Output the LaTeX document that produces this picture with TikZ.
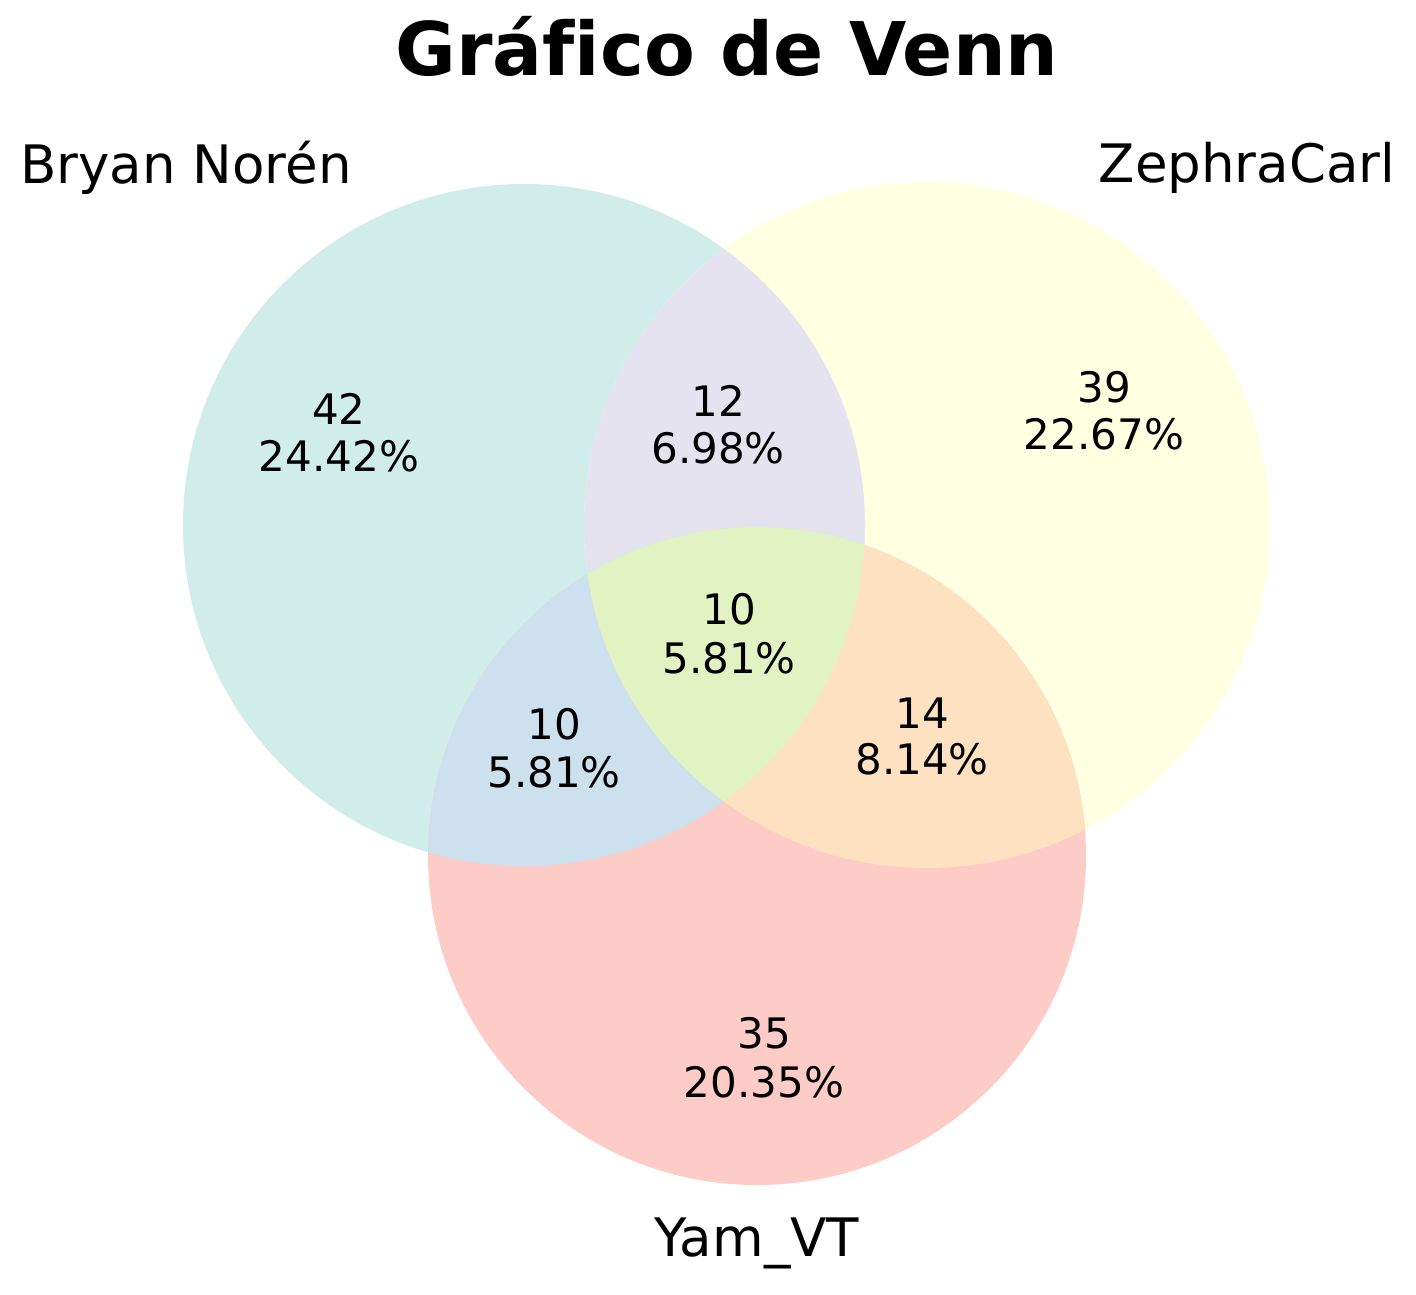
\documentclass[tikz,border=0pt]{standalone}
\usepackage{fontspec}
\setmainfont[Ligatures=NoCommon]{DejaVu Sans}
\definecolor{cA}{RGB}{209,237,233}
\definecolor{cB}{RGB}{255,255,226}
\definecolor{cC}{RGB}{253,204,199}
\definecolor{cAB}{RGB}{229,227,240}
\definecolor{cAC}{RGB}{204,224,237}
\definecolor{cBC}{RGB}{254,225,192}
\definecolor{cABC}{RGB}{225,242,195}
\tikzset{
  numtxt/.style={font=\fontsize{21pt}{25pt}\selectfont, anchor=base, inner sep=0pt, text=black},
  settxt/.style={font=\fontsize{26.5pt}{31pt}\selectfont, anchor=base, inner sep=0pt, text=black},
  titletxt/.style={font=\fontsize{37pt}{44pt}\selectfont\bfseries, anchor=base, inner sep=0pt, text=black}
}
\begin{document}
\begin{tikzpicture}[x=0.5pt,y=-0.5pt]
\useasboundingbox (0,0) rectangle (1416,1294);
\fill[white] (0,0) rectangle (1416,1294);
\coordinate (ca) at (524,525);
\coordinate (cb) at (927,525);
\coordinate (cc) at (757,856);
\def\circA{(ca) circle [radius=170.5pt]}
\def\circB{(cb) circle [radius=171.5pt]}
\def\circC{(cc) circle [radius=164.5pt]}
% single sets
\fill[cA] \circA;
\fill[cB] \circB;
\fill[cC] \circC;
% pairwise
\begin{scope}\clip \circA; \fill[cAB] \circB; \end{scope}
\begin{scope}\clip \circA; \fill[cAC] \circC; \end{scope}
\begin{scope}\clip \circB; \fill[cBC] \circC; \end{scope}
\begin{scope}\clip \circA; \clip \circB; \fill[cABC] \circC; \end{scope}
% title and set labels
\node[titletxt] (title) at (727,76) {Gráf\kern0pt ico de Venn};
\node[settxt] (labA) at (186,184) {Bryan Norén};
\node[settxt] (labB) at (1247,183) {ZephraCarl};
\node[settxt] (labC) at (757,1256) {Yam\_VT};
% region values
\node[numtxt] (a1) at (339,424) {42};
\node[numtxt] (a2) at (339,471) {24.42\%};
\node[numtxt] (ab1) at (718,416) {12};
\node[numtxt] (ab2) at (718,463) {6.98\%};
\node[numtxt] (b1) at (1104,402) {39};
\node[numtxt] (b2) at (1104,449) {22.67\%};
\node[numtxt] (abc1) at (729,624) {10};
\node[numtxt] (abc2) at (729,673) {5.81\%};
\node[numtxt] (ac1) at (554,739) {10};
\node[numtxt] (ac2) at (554,787) {5.81\%};
\node[numtxt] (bc1) at (922,728) {14};
\node[numtxt] (bc2) at (922,774) {8.14\%};
\node[numtxt] (c1) at (764,1048) {35};
\node[numtxt] (c2) at (764,1097) {20.35\%};
\end{tikzpicture}
\end{document}
